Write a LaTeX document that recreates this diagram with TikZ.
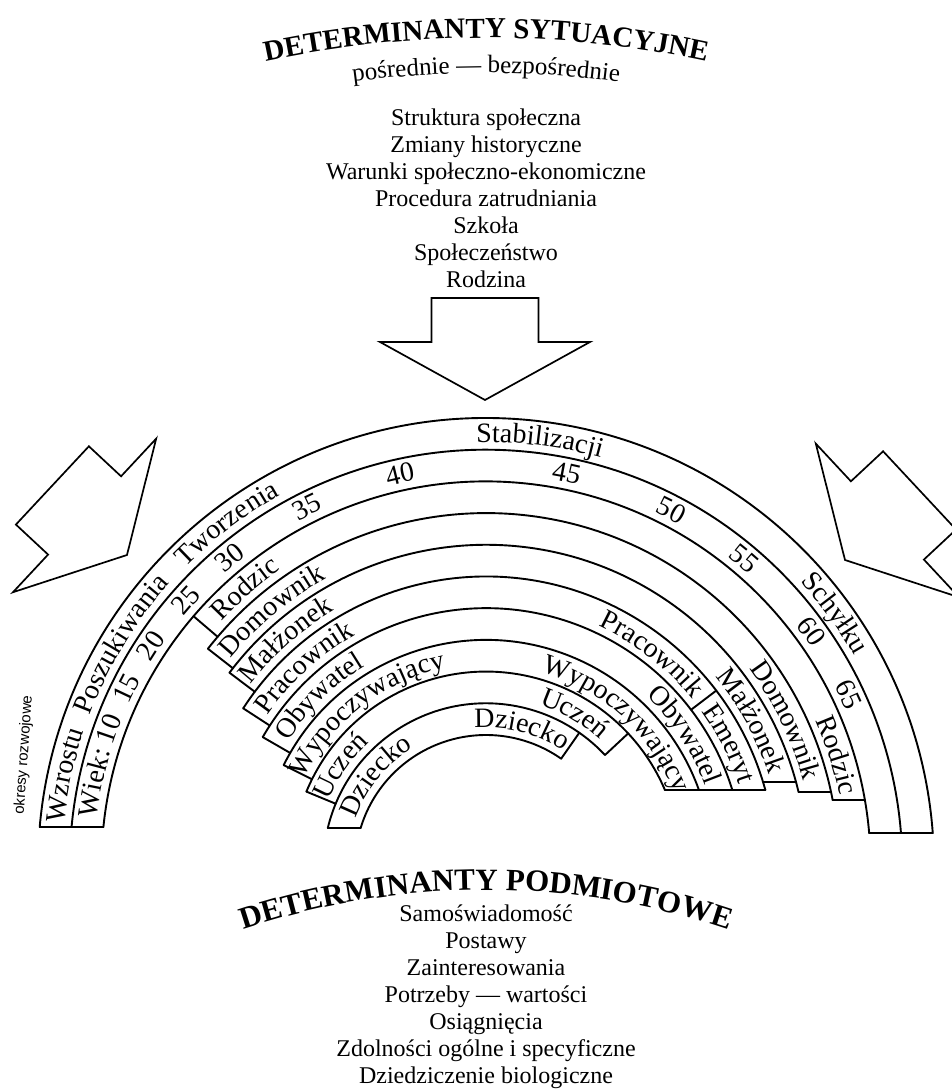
\documentclass[tikz,border=0pt]{standalone}
\usepackage{fontspec}
\setmainfont{Liberation Serif}
\newfontfamily\bandfont{Liberation Serif}
\newfontfamily\smallsans{Liberation Sans}
\usetikzlibrary{decorations.text}

\tikzset{
  ring/.style={line width=1.9pt, line cap=round, line join=round},
  listline/.style={font=\fontsize{24}{27}\selectfont, inner sep=0pt, anchor=base},
  blockarrow/.style={line width=1.7pt, line join=miter, fill=white},
}

% text set along an arc round the rainbow centre:
% [size]{baseline radius}{centre angle}{text}
\newcommand\bandtext[4][28]{%
  \path[decorate, decoration={text along path, text align=center,
      text={|\bandfont\fontsize{#1}{#1}\selectfont|#4}}]
    ({#3+60}:#2) arc[start angle={#3+60}, end angle={#3-60}, radius=#2];}

% wide block arrow with its tip at (#1,#2), turned by #3 degrees
\newcommand\blockarrow[3]{%
  \draw[blockarrow, shift={(#1,#2)}, rotate=#3]
    (0,0) -- (105,58) -- (53.5,58) -- (53.5,102) -- (-53.5,102)
    -- (-53.5,58) -- (-105,58) -- cycle;}

\begin{document}
\begin{tikzpicture}[x=1pt, y=1pt]
\useasboundingbox (-486,-226) rectangle (465,866);

% ---------- heading: situational determinants ----------
\begin{scope}[shift={(0,-222)}]
  \path[decorate, decoration={text along path, text align=center,
      text={|\bandfont\bfseries\fontsize{29}{29}\selectfont|DETERMINANTY SYTUACYJNE}}]
    (115:1050) arc[start angle=115, end angle=65, radius=1050];
\end{scope}
\begin{scope}[shift={(0,-207)}]
  \path[decorate, decoration={text along path, text align=center,
      text={|\bandfont\fontsize{25}{25}\selectfont|pośrednie — bezpośrednie}}]
    (115:1000) arc[start angle=115, end angle=65, radius=1000];
\end{scope}

\foreach \t [count=\i] in {Struktura społeczna, Zmiany historyczne,
    Warunki społeczno-ekonomiczne, Procedura zatrudniania, Szkoła,
    Społeczeństwo, Rodzina}
  \node[listline] (sit\i) at (0,{740-27*(\i-1)}) {\t};

% ---------- arrows ----------
\blockarrow{-1}{466}{0}
\blockarrow{-359}{311}{47}
\blockarrow{359}{306}{-47}

% ---------- rainbow arcs ----------
\draw[ring] (175.01:448)   arc[start angle=175.01, end angle=4.22,  radius=448];
\draw[ring] (174.62:416.3) arc[start angle=174.62, end angle=4.55,  radius=416.3];
\draw[ring] (174.18:384.6) arc[start angle=174.18, end angle=4.92,  radius=384.6];
\draw[ring] (142:352.9)    arc[start angle=142,    end angle=10.78, radius=352.9];
\draw[ring] (143:321.2)    arc[start angle=143,    end angle=13.32, radius=321.2];
\draw[ring] (147:289.5)    arc[start angle=147,    end angle=15.22, radius=289.5];
\draw[ring] (150:257.8)    arc[start angle=150,    end angle=17.15, radius=257.8];
\draw[ring] (153.5:226.1)  arc[start angle=153.5,  end angle=19.64, radius=226.1];
\draw[ring] (157.5:194.4)  arc[start angle=157.5,  end angle=23.01, radius=194.4];
\draw[ring] (166.49:162.7) arc[start angle=166.49, end angle=43,    radius=162.7];
\draw[ring] (163.14:131)   arc[start angle=163.14, end angle=55,    radius=131];

% band ends: flat bottoms
\draw[ring] (175.01:448) -- (174.18:384.6);
\draw[ring] (166.49:162.7) -- (163.14:131);
\draw[ring] (4.22:448) -- (4.92:384.6);
\draw[ring] ({asin(66/384.6)}:384.6) -- (10.78:352.9);
\draw[ring] ({asin(74/352.9)}:352.9) -- (13.32:321.2);
\draw[ring] ({asin(84/321.2)}:321.2) -- ({asin(84/289.5)}:289.5);
\draw[ring] (15.22:289.5) -- (23.01:194.4);

% band ends: radial cuts
\foreach \a/\ro/\ri in {139.5/384.6/352.9, 142/352.9/321.2, 143/321.2/289.5,
    147/289.5/257.8, 150/257.8/226.1, 153.5/226.1/194.4, 157.5/194.4/162.7,
    37.3/289.5/257.8, 43/194.4/162.7, 55/162.7/131}
  \draw[ring] (\a:\ro) -- (\a:\ri);

% ---------- band texts ----------
\bandtext{423.8}{167.8}{Wzrostu}
\bandtext{423.8}{148.7}{Poszukiwania}
\bandtext{423.8}{127.1}{Tworzenia}
\bandtext{423.8}{82.8}{Stabilizacji}
\bandtext{423.8}{35.9}{Schyłku}

\bandtext{392.1}{168}{Wiek:}
\foreach \n/\a in {10/160, 15/153.7, 20/146.7, 25/138.5, 30/129.7, 35/116.5,
    40/102.4, 45/78.4, 50/62.5, 55/50, 60/35.8, 65/25.3}
  {\bandtext{392.1}{\a}{\n}}

\bandtext{360.4}{131}{Rodzic}
\bandtext{360.4}{17.5}{Rodzic}
\bandtext{328.7}{130}{Domownik}
\bandtext{328.7}{25.9}{Domownik}
\bandtext{297}{131.5}{Małżonek}
\bandtext{297}{28.7}{Małżonek}
\bandtext{265.3}{132.5}{Pracownik}
\bandtext{265.3}{51.9}{Pracownik}
\bandtext{265.3}{26.7}{Emeryt}
\bandtext{233.6}{134.5}{Obywatel}
\bandtext{233.6}{33.4}{Obywatel}
\bandtext{201.9}{128}{Wypoczywający}
\bandtext{201.9}{47.5}{Wypoczywający}
\bandtext{170.2}{145.5}{Uczeń}
\bandtext{170.2}{59.8}{Uczeń}
\bandtext{138.5}{140.8}{Dziecko}
\bandtext{138.5}{75.5}{Dziecko}

\node[rotate=86, inner sep=0pt, font=\smallsans\fontsize{15}{15}\selectfont]
  (periods) at (-462,111) {okresy rozwojowe};

% ---------- heading: personal determinants ----------
\begin{scope}[shift={(0,-784)}]
  \path[decorate, decoration={text along path, text align=center,
      text={|\bandfont\bfseries\fontsize{31}{31}\selectfont|DETERMINANTY PODMIOTOWE}}]
    (125:760) arc[start angle=125, end angle=55, radius=760];
\end{scope}

\foreach \t [count=\i] in {Samoświadomość, Postawy, Zainteresowania,
    Potrzeby — wartości, Osiągnięcia, Zdolności ogólne i specyficzne,
    Dziedziczenie biologiczne}
  \node[listline] (pers\i) at (0,{-55-27*(\i-1)}) {\t};
\end{tikzpicture}
\end{document}
